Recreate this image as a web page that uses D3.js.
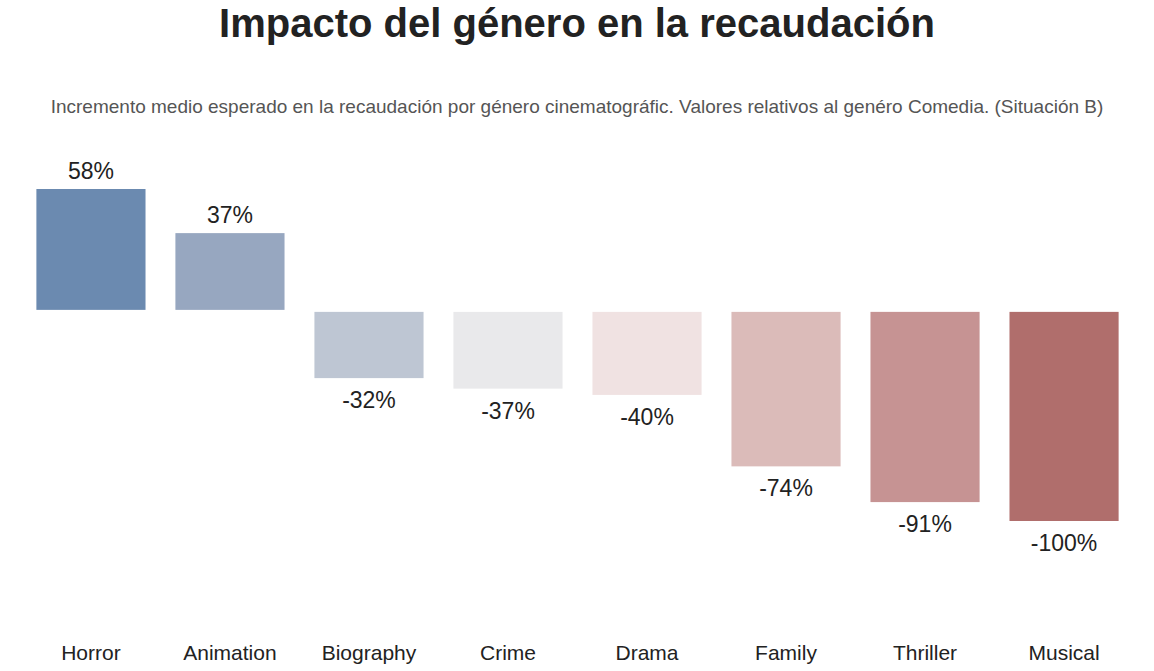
<!DOCTYPE html>
<html><head><meta charset="utf-8">
<script src="https://cdn.jsdelivr.net/npm/d3@7"></script>
<style>body{margin:0;background:#fff}text{font-family:Arial,"Liberation Sans",sans-serif}</style>
</head><body>
<svg id="chart" width="1154" height="671"></svg>
<script>
const genres = ['Horror','Animation','Biography','Crime','Drama','Family','Thriller','Musical'];
const values = [58, 37, -32, -37, -40, -74, -91, -100];
const colors = ['#6b8ab0','#97a7c0','#bec6d3','#e9e9eb','#f0e2e2','#dbbbb9','#c69393','#b06e6c'];

const svg = d3.select('#chart');
const x = d3.scaleBand().domain(genres).range([6.5, 1148.5]).padding(0.215);
const y = d3.scaleLinear().domain([-100, 58]).range([521, 189]);

svg.append('text').attr('x', 577).attr('y', 37).attr('text-anchor', 'middle')
  .attr('font-size', 40).attr('font-weight', 'bold').attr('fill', '#222')
  .text('Impacto del género en la recaudación');
svg.append('text').attr('x', 577).attr('y', 113).attr('text-anchor', 'middle')
  .attr('font-size', 19).attr('fill', '#555')
  .text('Incremento medio esperado en la recaudación por género cinematográfic. Valores relativos al genéro Comedia. (Situación B)');

const data = genres.map((g, i) => ({g, v: values[i], c: colors[i]}));
svg.selectAll('rect.bar').data(data).join('rect')
  .attr('x', d => x(d.g)).attr('width', x.bandwidth())
  .attr('y', d => d.v >= 0 ? y(d.v) : y(0) + 1)
  .attr('height', d => Math.abs(y(d.v) - y(0)) - 1)
  .attr('fill', d => d.c);

svg.selectAll('text.val').data(data).join('text')
  .attr('x', d => x(d.g) + x.bandwidth() / 2)
  .attr('y', d => d.v >= 0 ? y(d.v) - 10 : y(d.v) + 30)
  .attr('text-anchor', 'middle').attr('font-size', 23).attr('fill', '#222')
  .text(d => d.v + '%');

svg.selectAll('text.cat').data(genres).join('text')
  .attr('x', d => x(d) + x.bandwidth() / 2).attr('y', 660)
  .attr('text-anchor', 'middle').attr('font-size', 21).attr('fill', '#222')
  .text(d => d);
</script>
</body></html>
